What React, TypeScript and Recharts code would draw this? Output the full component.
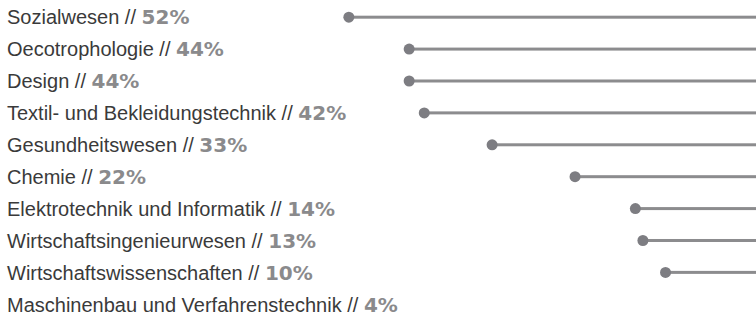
import { ComposedChart, Bar, XAxis, YAxis } from "recharts";

const categories = [
  "Sozialwesen",
  "Oecotrophologie",
  "Design",
  "Textil- und Bekleidungstechnik",
  "Gesundheitswesen",
  "Chemie",
  "Elektrotechnik und Informatik",
  "Wirtschaftsingenieurwesen",
  "Wirtschaftswissenschaften",
  "Maschinenbau und Verfahrenstechnik",
];

const percents = [52, 44, 44, 42, 33, 22, 14, 13, 10, 4];

// last row has no lollipop in the picture
const shown = [true, true, true, true, true, true, true, true, true, false];

const LINE_END = -2;

const data = categories.map((name, i) => ({
  name,
  pct: percents[i],
  range: shown[i] ? [LINE_END, percents[i]] : null,
}));

const FONT = "'Liberation Sans', Arial, sans-serif";

function LabelTick(props: any) {
  const { y, payload, index } = props;
  return (
    <text
      x={7}
      y={y}
      dy={7.5}
      textAnchor="start"
      fontFamily={FONT}
      fontSize={20}
      fill="#3a3a3a"
    >
      {payload.value} //{" "}
      <tspan fontFamily="'DejaVu Sans', sans-serif" fontWeight="bold" fill="#8a8a8c">
        {percents[index]}%
      </tspan>
    </text>
  );
}

function Lollipop(props: any) {
  const { x, y, width, height } = props;
  if (x == null || width == null) return null;
  const left = Math.min(x, x + width);
  const right = Math.max(x, x + width);
  const cy = y + height / 2;
  return (
    <g>
      <rect x={left} y={cy - 1.5} width={right - left} height={3} fill="#8c8c8e" />
      <circle cx={left} cy={cy} r={5.5} fill="#7d7d82" />
    </g>
  );
}

export default function App() {
  return (
    <div style={{ position: "absolute", left: 0, top: 0 }}>
      <ComposedChart
        width={756}
        height={322}
        data={data}
        layout="vertical"
        margin={{ top: 1, right: 0, bottom: 2, left: 0 }}
      >
        <XAxis type="number" domain={[-2, 98]} reversed hide allowDataOverflow />
        <YAxis
          type="category"
          dataKey="name"
          width={2}
          axisLine={false}
          tickLine={false}
          tick={<LabelTick />}
          interval={0}
        />
        <Bar
          dataKey="range"
          shape={<Lollipop />}
          isAnimationActive={false}
        />
      </ComposedChart>
    </div>
  );
}
